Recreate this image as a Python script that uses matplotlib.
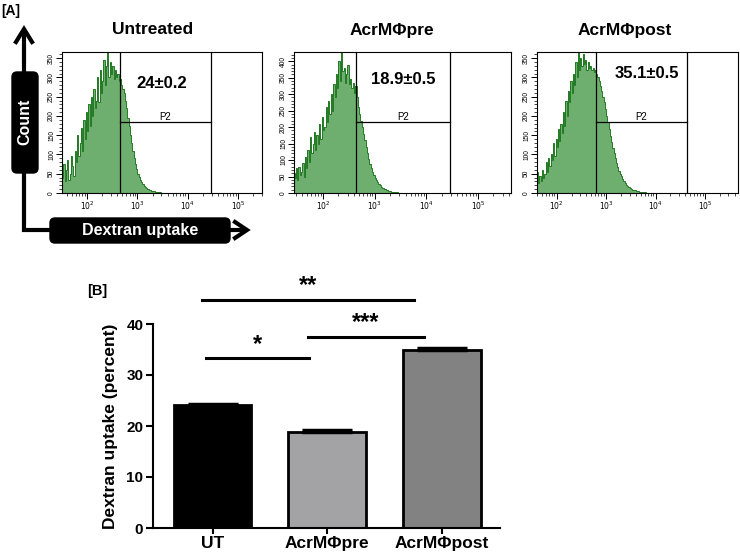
import numpy as np
import matplotlib
matplotlib.use('Agg')
import matplotlib.pyplot as plt
from matplotlib.patches import FancyBboxPatch
from matplotlib.ticker import MultipleLocator, LogLocator, FixedLocator

plt.rcParams['font.family'] = ['Liberation Sans', 'DejaVu Sans']

W, H = 740, 555

# ---------------- data ----------------
bin_step = 0.025  # log10 width of histogram bins

untreated_start = 1.50
untreated_counts = [40, 75, 30, 60, 85, 35, 50, 95, 70, 45,
                    110, 80, 150, 95, 130, 170, 110, 190, 140, 210,
                    160, 230, 175, 250, 200, 270, 220, 240, 300, 235,
                    320, 260, 290, 345, 280, 330, 365, 300, 340, 310,
                    330, 295, 320, 300, 310, 290, 295, 280, 270, 260,
                    240, 220, 195, 175, 150, 130, 110, 92, 76, 62,
                    50, 41, 34, 28, 23, 19, 15, 12, 10, 8,
                    7, 6, 5, 4, 3.5, 3, 2.5, 2, 1.5, 1.2,
                    1, 0.8, 0.5, 0.3, 0]

pre_start = 1.40
pre_counts = [30, 60, 45, 75, 40, 80, 55, 65, 90, 50,
              110, 75, 130, 95, 170, 120, 150, 185, 130, 175,
              150, 210, 165, 230, 190, 200, 260, 215, 280, 240,
              300, 250, 330, 290, 360, 320, 400, 340, 430, 370,
              380, 335, 360, 390, 330, 345, 320, 335, 305, 325,
              290, 260, 240, 220, 200, 180, 160, 140, 120, 103,
              88, 75, 64, 55, 46, 39, 33, 28, 23, 19,
              16, 13, 11, 9, 7.5, 6, 5, 4, 3.5, 3,
              2.5, 2, 1.5, 1, 0.6, 0.3, 0]

post_start = 1.55
post_counts = [20, 35, 55, 25, 45, 30, 60, 40, 50, 80,
               55, 90, 70, 100, 85, 130, 95, 140, 120, 165,
               135, 180, 155, 210, 175, 240, 200, 265, 235, 290,
               260, 310, 280, 340, 300, 365, 320, 350, 330, 360,
               335, 345, 320, 340, 325, 330, 320, 325, 315, 318,
               310, 300, 290, 278, 265, 250, 235, 218, 200, 183,
               165, 148, 132, 117, 103, 90, 78, 67, 58, 50,
               43, 37, 31, 26, 22, 19, 16, 13, 11, 9,
               8, 7, 6, 5, 4, 3.5, 3, 2.5, 2, 1.5,
               1.2, 1, 0.7, 0.4, 0.2, 0]

panel_titles = ['Untreated', 'AcrMΦpre', 'AcrMΦpost']
panel_values = ['24±0.2', '18.9±0.5', '35.1±0.5']
gate_low = [2.66, 2.64, 2.79]     # log10 positions of gate lines
gate_high = [4.46, 4.45, 4.63]

bar_categories = ['UT', 'AcrMΦpre', 'AcrMΦpost']
bar_means = [24.2, 18.8, 35.0]
bar_errors = [0.2, 0.4, 0.3]
bar_colors = ['#000000', '#a3a3a5', '#828282']

# comparisons: (x start, x end, height, label)
sig_x0 = [-0.06, 0.83, -0.09]
sig_x1 = [0.84, 1.85, 1.76]
sig_y = [33.3, 37.5, 44.7]
sig_labels = ['*', '***', '**']

# ---------------- figure ----------------
fig = plt.figure(figsize=(W / 100, H / 100), dpi=100)


def px_axes(l, t, r, b):
    return fig.add_axes([l / W, 1 - b / H, (r - l) / W, (b - t) / H])


ov = fig.add_axes([0, 0, 1, 1])
ov.set_xlim(0, W)
ov.set_ylim(H, 0)
ov.axis('off')
ov.set_zorder(10)
ov.patch.set_visible(False)

# panels
panel_boxes = [(62, 52, 262, 193), (294, 52, 511, 193), (537, 52, 738, 193)]
panel_xlims = [(1.50, 5.48), (1.44, 5.64), (1.60, 5.67)]
panel_ylims = [366, 428, 366]
panel_ymaj = [350, 400, 350]
panel_title_x = [153, 392, 625]
panel_val_xy = [(162, 83), (403, 80), (647, 73)]
hist_data = [(untreated_start, untreated_counts), (pre_start, pre_counts), (post_start, post_counts)]

for i in range(3):
    ax = px_axes(*panel_boxes[i])
    start, counts = hist_data[i]
    counts = np.array(counts, dtype=float)
    edges = 10 ** (start + bin_step * np.arange(len(counts) + 1))
    ax.stairs(counts, edges, fill=True, color='#6eae6e', zorder=1)
    ax.stairs(counts, edges, color='#237a23', lw=0.7, zorder=2)
    ax.set_xscale('log')
    ax.set_xlim(10 ** panel_xlims[i][0], 10 ** panel_xlims[i][1])
    ax.set_ylim(0, panel_ylims[i])
    ax.xaxis.set_major_locator(FixedLocator([1e2, 1e3, 1e4, 1e5]))
    ax.xaxis.set_minor_locator(LogLocator(base=10, subs=np.arange(2, 10)))
    ax.set_xticklabels(['$10^2$', '$10^3$', '$10^4$', '$10^5$'], fontsize=5.5)
    ax.yaxis.set_minor_locator(MultipleLocator(10))
    ax.set_yticks(np.arange(0, panel_ymaj[i] + 1, 50))
    for lab in ax.get_yticklabels():
        lab.set_rotation(90)
        lab.set_fontsize(4.8)
        lab.set_va('center')
    ax.tick_params(axis='both', which='major', length=4, width=0.7, pad=1)
    ax.tick_params(axis='both', which='minor', length=2.2, width=0.5)
    for s in ax.spines.values():
        s.set_linewidth(0.8)
    # gates
    gl, gh = 10 ** gate_low[i], 10 ** gate_high[i]
    ax.axvline(gl, color='black', lw=0.9, zorder=3)
    ax.axvline(gh, color='black', lw=0.9, zorder=3)
    hy = panel_ylims[i] * 71 / 141
    ax.plot([gl, gh], [hy, hy], color='black', lw=0.9, zorder=3)
    ax.text(np.sqrt(gl * gh), hy, 'P2', fontsize=7, ha='center', va='bottom')
    ov.text(panel_title_x[i], 30, panel_titles[i], fontsize=12.5, fontweight='bold',
            ha='center', va='center')
    ov.text(*panel_val_xy[i], panel_values[i], fontsize=12, fontweight='bold',
            ha='center', va='center')

# [A] label and axis-style arrows
ov.text(1, 11, '[A]', fontsize=10, fontweight='bold', ha='left', va='center')
ov.plot([24, 24, 245], [31, 230, 230], color='black', lw=3, solid_joinstyle='miter',
        solid_capstyle='butt')
ov.plot([16, 24, 32], [42, 29, 42], color='black', lw=3, solid_joinstyle='miter')
ov.plot([235, 247, 235], [222, 230, 238], color='black', lw=3, solid_joinstyle='miter')
ov.add_patch(FancyBboxPatch((12, 72), 26, 101, boxstyle='round,pad=0,rounding_size=5',
                            fc='black', ec='black'))
ov.text(25, 122, 'Count', rotation=90, fontsize=11.5, fontweight='bold', color='white',
        ha='center', va='center')
ov.add_patch(FancyBboxPatch((50, 218), 180, 25, boxstyle='round,pad=0,rounding_size=5',
                            fc='black', ec='black'))
ov.text(140, 231, 'Dextran uptake', fontsize=11.5, fontweight='bold', color='white',
        ha='center', va='center')

# ---------------- bar chart ----------------
bx = px_axes(153, 324, 500, 528)
xpos = np.arange(len(bar_categories))
bx.bar(xpos, bar_means, width=0.68, color=bar_colors, edgecolor='black', linewidth=2, zorder=2)
bx.errorbar(xpos, bar_means, yerr=[np.zeros(3), bar_errors], fmt='none', ecolor='black',
            elinewidth=2, capsize=18, capthick=2.5, zorder=3)
bx.set_xlim(-0.52, 2.51)
bx.set_ylim(0, 40)
bx.set_yticks([0, 10, 20, 30, 40])
bx.set_xticks(xpos)
bx.set_xticklabels(bar_categories, fontsize=12.5, fontweight='bold')
for lab in bx.get_yticklabels():
    lab.set_fontsize(11)
    lab.set_fontweight('bold')
bx.spines['top'].set_visible(False)
bx.spines['right'].set_visible(False)
bx.spines['left'].set_linewidth(1.5)
bx.spines['bottom'].set_linewidth(1.5)
bx.tick_params(axis='y', length=5, width=1.5, pad=2)
bx.tick_params(axis='x', length=4, width=1.5, pad=2)
bx.set_ylabel('Dextran uptake (percent)', fontsize=12.5, fontweight='bold', labelpad=6)

for x0, x1, y, lab in zip(sig_x0, sig_x1, sig_y, sig_labels):
    bx.plot([x0, x1], [y, y], color='black', lw=2.2, clip_on=False)
    bx.text((x0 + x1) / 2, y + 0.5, lab, fontsize=17, fontweight='bold', ha='center',
            va='bottom', clip_on=False)

ov.text(87, 291, '[B]', fontsize=10.5, fontweight='bold', ha='left', va='center')

fig.savefig('out.png', dpi=100)
